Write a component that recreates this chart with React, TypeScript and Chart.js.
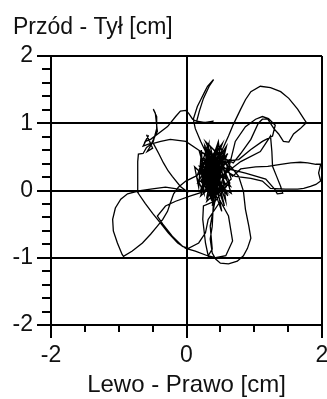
import { useEffect, useRef } from 'react';
import { Chart, registerables } from 'chart.js';

Chart.register(...registerables);

type P = [number, number];

// Trajectory of the centre of pressure [x = Lewo-Prawo, y = Przód-Tył] in cm
const centreA: P[] = [
  [0.43, 0.21], [0.28, 0.43], [0.53, 0.58], [0.35, 0.06], [0.62, 0.29], [0.21, -0.08], [0.47, 0.73],
  [0.58, -0.16], [0.31, 0.61], [0.65, 0.06], [0.18, 0.26], [0.5, 0.43], [0.38, -0.23], [0.59, 0.66],
  [0.25, 0.14], [0.46, -0.04], [0.64, 0.46], [0.3, 0.32], [0.52, -0.31], [0.35, 0.58], [0.68, 0.21],
];
const rightLobe: P[] = [
  [0.8, 0.32], [1.02, 0.35], [1.2, 0.36], [1.39, 0.39], [1.54, 0.41], [1.68, 0.42], [1.79, 0.41],
  [1.91, 0.39], [1.98, 0.39], [1.95, 0.26], [1.98, 0.14], [1.91, 0.09], [1.83, 0.06], [1.73, 0.03],
  [1.64, 0.02], [1.46, 0.02], [1.24, 0.03], [1.12, 0.14], [0.95, 0.18], [0.72, 0.21], [0.58, 0.29],
];
const centreB: P[] = [
  [0.41, 0.36], [0.56, 0.17], [0.27, 0.46], [0.49, -0.13], [0.34, 0.26], [0.61, 0.55], [0.22, 0.02],
  [0.44, 0.64], [0.66, -0.04], [0.32, 0.17], [0.55, 0.39], [0.19, 0.58], [0.4, -0.19], [0.59, 0.06],
  [0.28, 0.73], [0.5, 0.51],
];
const upperRightLoop: P[] = [
  [0.69, 0.41], [0.8, 0.55], [0.95, 0.76], [1.06, 1.0], [1.12, 1.06], [1.2, 1.06], [1.29, 0.92],
  [1.36, 0.84], [1.43, 0.73], [1.51, 0.72], [1.58, 0.84], [1.68, 0.92], [1.77, 1.01], [1.73, 1.07],
  [1.64, 1.21], [1.51, 1.37], [1.39, 1.47], [1.24, 1.53], [1.09, 1.55], [0.95, 1.47], [0.87, 1.35],
  [0.8, 1.21], [0.69, 0.98], [0.62, 0.81], [0.53, 0.61],
];
const centreC: P[] = [
  [0.38, 0.29], [0.62, 0.43], [0.24, 0.11], [0.47, -0.01], [0.3, 0.51], [0.56, -0.23], [0.35, 0.66],
  [0.65, 0.32], [0.19, 0.36], [0.43, 0.06],
];
const centreG: P[] = [
  [0.12, 0.35], [0.18, 0.05], [0.22, 0.6], [0.26, -0.05], [0.15, 0.2], [0.33, 0.7], [0.29, 0.02],
  [0.4, 0.45], [0.36, -0.12], [0.2, 0.3], [0.45, 0.1], [0.31, 0.55], [0.24, 0.15], [0.42, -0.06],
  [0.38, 0.38], [0.27, 0.66], [0.33, 0.08], [0.48, 0.3], [0.23, 0.42], [0.4, 0.0], [0.52, 0.5],
  [0.35, 0.22], [0.17, 0.12], [0.44, 0.62], [0.3, -0.1], [0.5, 0.18], [0.26, 0.48], [0.41, 0.27],
  [0.55, 0.04], [0.34, 0.4], [0.2, -0.02], [0.47, 0.7], [0.37, 0.12], [0.28, 0.33], [0.53, 0.36],
  [0.39, -0.18], [0.25, 0.24], [0.46, 0.44], [0.32, 0.16], [0.43, 0.52],
];
const lowerLoop: P[] = [
  [0.38, -0.53], [0.35, -0.72], [0.38, -0.93], [0.43, -1.02], [0.5, -1.08], [0.62, -1.09], [0.75, -1.05],
  [0.84, -0.97], [0.9, -0.86], [0.95, -0.71], [0.92, -0.53], [0.87, -0.28], [0.84, -0.01], [0.77, 0.21],
  [0.65, 0.36],
];
const centreD: P[] = [
  [0.49, 0.17], [0.27, -0.01], [0.53, 0.7], [0.34, 0.43], [0.61, -0.08], [0.21, 0.51], [0.41, -0.16],
  [0.25, -0.23], [0.24, -0.43], [0.28, -0.78], [0.32, -0.97], [0.38, -0.87], [0.35, -0.53], [0.56, 0.58],
  [0.31, 0.06], [0.46, 0.32],
];
const upperLeft: P[] = [
  [0.28, 0.58], [0.21, 0.73], [0.13, 0.92], [0.1, 1.06], [0.16, 1.25], [0.21, 1.35], [0.27, 1.47],
  [0.31, 1.55], [0.4, 1.65], [0.34, 1.56], [0.25, 1.37], [0.19, 1.18], [0.15, 1.03], [0.28, 1.01],
  [0.4, 1.03], [0.21, 1.0], [0.09, 1.06], [0.03, 1.15], [-0.01, 1.19], [-0.09, 1.18], [-0.16, 1.1],
  [-0.28, 0.95], [-0.41, 0.85], [-0.53, 0.76], [-0.61, 0.73], [-0.56, 0.82], [-0.64, 0.66], [-0.53, 0.7],
  [-0.59, 0.83], [-0.5, 0.63], [-0.58, 0.58], [-0.49, 0.73], [-0.44, 0.92], [-0.44, 1.1], [-0.49, 1.21],
  [-0.46, 1.15], [-0.43, 0.88], [-0.52, 0.69], [-0.59, 0.64],
];
const leftLoop: P[] = [
  [-0.64, 0.55], [-0.71, 0.54], [-0.72, 0.43], [-0.72, 0.21], [-0.72, -0.01], [-0.87, -0.05], [-0.97, -0.13],
  [-1.05, -0.26], [-1.09, -0.43], [-1.08, -0.6], [-1.02, -0.78], [-0.95, -0.95], [-0.93, -0.98], [-0.8, -0.9],
  [-0.65, -0.78], [-0.53, -0.65], [-0.43, -0.53], [-0.35, -0.43], [-0.28, -0.31], [-0.24, -0.19],
  [-0.19, -0.05], [-0.12, 0.05], [-0.01, 0.14], [0.13, 0.21],
];
const centreE: P[] = [
  [0.35, 0.36], [0.53, 0.06], [0.25, 0.29], [0.59, 0.51], [0.38, -0.08], [0.21, 0.14], [0.5, 0.66],
  [0.66, 0.17], [0.3, -0.16], [0.47, 0.43],
];
const centreH: P[] = [
  [0.29, 0.35], [0.31, 0.05], [0.36, 0.3], [0.34, 0.0], [0.4, 0.25], [0.39, -0.05], [0.44, 0.33],
  [0.45, 0.02], [0.49, 0.28], [0.27, 0.12], [0.22, 0.38], [0.24, 0.08], [0.33, 0.45], [0.37, 0.15],
  [0.42, 0.4], [0.46, 0.1], [0.51, 0.35], [0.48, -0.02], [0.3, 0.22], [0.35, 0.5],
];
const leftDiagonal: P[] = [
  [0.21, 0.58], [-0.01, 0.73], [-0.24, 0.76], [-0.38, 0.73], [-0.49, 0.7], [-0.41, 0.55], [-0.34, 0.41],
  [-0.27, 0.29], [-0.21, 0.21], [-0.09, 0.06], [0.0, -0.01],
];
const lowerSweep: P[] = [
  [-0.12, 0.02], [-0.31, 0.05], [-0.53, 0.02], [-0.68, 0.0], [-0.72, -0.03], [-0.61, -0.19], [-0.5, -0.34],
  [-0.38, -0.49], [-0.27, -0.63], [-0.13, -0.78], [-0.01, -0.86], [0.13, -0.9], [0.31, -0.97], [0.43, -1.0],
  [0.58, -0.97], [0.68, -0.75], [0.62, -0.38], [0.5, -0.16],
];
const lowerInner: P[] = [
  [0.32, -0.43], [0.28, -0.63], [0.18, -0.78], [0.03, -0.86], [-0.06, -0.83], [-0.21, -0.68], [-0.35, -0.5],
  [-0.43, -0.38], [-0.31, -0.23], [-0.16, -0.16], [0.06, -0.08], [0.28, -0.01],
];
const rightHook: P[] = [
  [0.43, 0.14], [0.8, 0.43], [1.09, 0.58], [1.24, 0.81], [1.26, 0.58], [1.27, 0.36], [1.33, 0.21],
  [1.39, 0.06], [1.42, -0.04], [1.34, -0.05], [1.3, 0.02], [1.17, 0.17], [0.87, 0.26], [0.62, 0.32],
];
const upperHump: P[] = [
  [0.72, 0.73], [0.87, 0.95], [1.02, 1.06], [1.12, 1.1], [1.21, 1.07], [1.31, 0.97], [1.27, 0.81],
  [1.12, 0.73], [0.95, 0.61], [0.77, 0.46],
];
const centreF: P[] = [
  [0.5, 0.43], [0.32, 0.21], [0.58, -0.01], [0.25, 0.41], [0.44, 0.58], [0.64, 0.11], [0.37, -0.12],
  [0.21, 0.32], [0.47, 0.26],
];

const trajectory: P[] = [
  ...centreA, ...rightLobe, ...centreB, ...upperRightLoop, ...centreC, ...centreG, ...lowerLoop, ...centreD,
  ...upperLeft, ...leftLoop, ...centreE, ...centreH, ...leftDiagonal, ...lowerSweep, ...lowerInner,
  ...rightHook, ...upperHump, ...centreF,
];

const xTickValues = [-2, -1.5, -1, -0.5, 0, 0.5, 1, 1.5, 2];
const xMajorTicks = [-2, 0, 2];
const yTickValues = [-2, -1.8, -1.6, -1.4, -1.2, -1, -0.8, -0.6, -0.4, -0.2, 0, 0.2, 0.4, 0.6, 0.8, 1, 1.2, 1.4, 1.6, 1.8, 2];
const yMajorTicks = [-2, -1, 0, 1, 2];
const yTitle = 'Przód - Tył [cm]';
const xTitle = 'Lewo - Prawo [cm]';

const FONT = '"Liberation Sans", Arial, sans-serif';

const axisMarks = {
  id: 'axisMarks',
  afterDraw(chart: any) {
    const { ctx, chartArea: a, scales } = chart;
    const xs = scales.x;
    const ys = scales.y;
    ctx.save();
    ctx.strokeStyle = '#000';
    ctx.lineWidth = 2;
    ctx.beginPath();
    for (const v of xTickValues) {
      const px = Math.round(xs.getPixelForValue(v));
      const len = xMajorTicks.includes(v) ? 13 : 7;
      ctx.moveTo(px, a.bottom);
      ctx.lineTo(px, a.bottom + len);
    }
    for (const v of yTickValues) {
      const py = Math.round(ys.getPixelForValue(v));
      const len = yMajorTicks.includes(v) ? 14 : 9;
      ctx.moveTo(a.left, py);
      ctx.lineTo(a.left - len, py);
    }
    ctx.stroke();
    ctx.fillStyle = '#111';
    ctx.font = `23px ${FONT}`;
    ctx.textAlign = 'left';
    ctx.textBaseline = 'alphabetic';
    ctx.fillText(yTitle, 13, 34);
    ctx.restore();
  },
};

export default function App() {
  const ref = useRef<HTMLCanvasElement>(null);

  useEffect(() => {
    if (!ref.current) return;
    const chart = new Chart(ref.current, {
      type: 'scatter',
      data: {
        datasets: [
          {
            data: trajectory.map(([x, y]) => ({ x, y })),
            showLine: true,
            borderColor: '#000',
            borderWidth: 1.3,
            pointRadius: 0,
            fill: false,
            tension: 0,
          },
        ],
      },
      options: {
        animation: false,
        responsive: false,
        devicePixelRatio: 1,
        layout: { padding: { top: 56, right: 5, left: 0, bottom: 0 } },
        plugins: { legend: { display: false }, tooltip: { enabled: false } },
        scales: {
          x: {
            type: 'linear',
            min: -2,
            max: 2,
            afterFit: (s: any) => {
              s.height = 74;
              s.paddingLeft = 0;
              s.paddingRight = 0;
            },
            ticks: { stepSize: 2, autoSkip: false, maxRotation: 0, padding: 17, color: '#111', font: { family: FONT, size: 23 } },
            grid: { color: '#000', lineWidth: 2, drawTicks: false },
            border: { display: true, color: '#000', width: 2 },
            title: { display: true, text: xTitle, color: '#111', font: { family: FONT, size: 24, lineHeight: 1.1 }, padding: 0 },
          },
          y: {
            type: 'linear',
            min: -2,
            max: 2,
            afterFit: (s: any) => {
              s.width = 51;
              s.paddingTop = 0;
              s.paddingBottom = 0;
            },
            ticks: { stepSize: 1, autoSkip: false, padding: 18, color: '#111', font: { family: FONT, size: 23 } },
            grid: { color: '#000', lineWidth: 2, drawTicks: false },
            border: { display: true, color: '#000', width: 2 },
          },
        },
      },
      plugins: [axisMarks],
    });
    return () => chart.destroy();
  }, []);

  return (
    <div style={{ position: 'absolute', left: 0, top: 0, width: 327, height: 399 }}>
      <canvas ref={ref} width={327} height={399} style={{ display: 'block' }} />
    </div>
  );
}
